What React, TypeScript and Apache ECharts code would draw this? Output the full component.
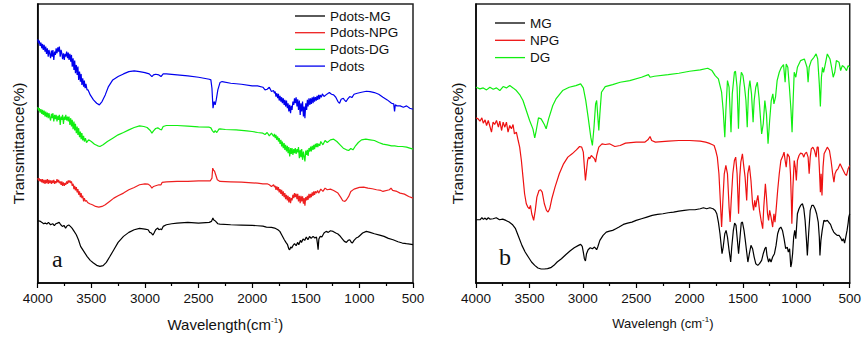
import React, { useEffect, useRef } from "react";
import * as echarts from "echarts";

// ---- Panel a : FTIR spectra (wavenumber cm-1, relative transmittance, offset) ----
const pdots: number[][] = [[4000,732],[3992,720],[3985,728],[3978,712],[3970,722],[3962,705],[3955,718],[3948,700],[3940,715],[3932,695],[3925,710],[3918,688],[3910,705],[3902,680],[3895,700],[3888,690],[3880,675],[3872,698],[3865,680],[3858,700],[3850,670],[3842,695],[3835,685],[3828,705],[3820,690],[3812,708],[3805,695],[3798,710],[3790,680],[3782,700],[3775,690],[3768,672],[3760,690],[3752,670],[3745,688],[3738,680],[3730,695],[3722,675],[3715,692],[3708,670],[3700,688],[3692,665],[3685,685],[3678,650],[3670,675],[3662,640],[3655,668],[3648,630],[3640,655],[3632,625],[3625,650],[3618,610],[3610,635],[3602,605],[3595,628],[3588,595],[3580,615],[3572,590],[3565,608],[3558,585],[3550,598],[3540,580],[3530,580],[3510,565],[3480,550],[3450,540],[3425,535],[3400,545],[3370,565],[3340,590],[3300,610],[3250,620],[3200,628],[3150,635],[3100,637],[3050,635],[3000,632],[2960,628],[2935,620],[2920,625],[2900,627],[2870,625],[2850,620],[2830,628],[2800,628],[2700,625],[2600,622],[2500,618],[2400,612],[2385,610],[2375,585],[2365,525],[2355,545],[2345,535],[2335,550],[2320,580],[2300,602],[2280,605],[2200,600],[2100,597],[2000,592],[1950,592],[1900,588],[1880,580],[1860,582],[1840,588],[1820,575],[1800,578],[1792,570],[1785,575],[1778,560],[1770,570],[1762,555],[1755,568],[1748,548],[1740,562],[1732,545],[1725,558],[1718,540],[1710,555],[1702,535],[1695,550],[1688,530],[1680,548],[1672,525],[1665,540],[1658,515],[1650,535],[1642,510],[1635,532],[1628,520],[1620,545],[1612,535],[1605,555],[1598,540],[1590,558],[1582,530],[1575,552],[1568,520],[1560,548],[1552,505],[1545,540],[1538,515],[1530,545],[1522,500],[1515,530],[1508,495],[1500,540],[1492,520],[1485,550],[1478,530],[1470,555],[1462,535],[1455,555],[1448,538],[1440,558],[1432,540],[1425,560],[1418,545],[1410,558],[1402,548],[1395,562],[1388,550],[1380,565],[1372,552],[1365,565],[1355,558],[1345,568],[1330,560],[1300,568],[1280,572],[1260,567],[1240,565],[1220,558],[1200,545],[1185,540],[1170,552],[1150,555],[1140,550],[1125,545],[1110,552],[1090,560],[1070,557],[1050,567],[1020,570],[980,573],[935,576],[900,575],[860,572],[820,567],[780,558],[740,550],[700,540],[680,538],[672,515],[665,535],[650,532],[620,532],[590,528],[560,532],[530,525],[500,522]];

const pdotsDG: number[][] = [[4000,528],[3992,518],[3985,525],[3978,512],[3970,522],[3962,508],[3955,520],[3948,505],[3940,518],[3932,500],[3925,515],[3918,498],[3910,512],[3902,495],[3895,510],[3888,498],[3880,488],[3872,508],[3865,495],[3858,510],[3850,485],[3842,505],[3835,492],[3828,505],[3820,485],[3812,502],[3805,490],[3798,505],[3790,475],[3782,500],[3775,490],[3768,505],[3760,478],[3752,500],[3745,490],[3738,505],[3730,488],[3722,500],[3715,485],[3708,500],[3700,475],[3692,495],[3685,470],[3678,490],[3670,462],[3662,485],[3655,458],[3648,478],[3640,450],[3632,470],[3625,445],[3618,465],[3610,438],[3602,455],[3595,432],[3588,450],[3580,428],[3572,442],[3565,425],[3555,435],[3545,422],[3525,430],[3500,425],[3470,417],[3440,412],[3420,410],[3390,415],[3350,425],[3300,435],[3250,445],[3200,452],[3150,460],[3100,467],[3050,472],[3010,470],[2980,467],[2950,458],[2935,450],[2920,457],[2900,464],[2880,466],[2860,462],[2845,460],[2830,470],[2800,473],[2700,473],[2600,471],[2500,469],[2400,468],[2385,466],[2370,457],[2355,452],[2345,458],[2330,452],[2310,462],[2300,463],[2250,461],[2150,460],[2050,457],[2000,455],[1950,452],[1900,450],[1880,446],[1860,452],[1840,442],[1820,450],[1800,440],[1792,448],[1785,435],[1778,445],[1770,430],[1762,440],[1755,425],[1748,435],[1740,418],[1732,430],[1725,410],[1718,425],[1710,405],[1702,420],[1695,400],[1688,415],[1680,395],[1672,412],[1665,390],[1658,408],[1650,380],[1642,405],[1635,388],[1628,405],[1620,385],[1612,402],[1605,390],[1598,405],[1590,388],[1582,402],[1575,392],[1568,408],[1560,375],[1552,400],[1545,378],[1538,402],[1530,370],[1522,395],[1515,380],[1508,365],[1500,398],[1492,385],[1485,400],[1478,382],[1470,405],[1462,395],[1455,410],[1448,395],[1440,412],[1432,400],[1425,415],[1418,402],[1410,418],[1402,408],[1395,420],[1388,408],[1380,418],[1370,412],[1360,425],[1340,415],[1320,428],[1300,422],[1270,430],[1240,432],[1210,425],[1180,415],[1150,405],[1120,400],[1100,398],[1080,404],[1060,400],[1040,410],[1010,422],[980,430],[940,432],[900,430],[860,428],[820,422],[780,417],[740,415],[700,412],[670,412],[640,410],[600,410],[560,408],[530,405],[500,402]];

const pdotsNPG: number[][] = [[4000,315],[3992,308],[3985,314],[3978,305],[3970,312],[3962,302],[3955,312],[3948,300],[3940,310],[3932,298],[3925,310],[3918,300],[3910,312],[3902,298],[3895,310],[3888,300],[3880,308],[3872,298],[3865,308],[3858,300],[3850,310],[3842,298],[3835,306],[3828,300],[3820,312],[3812,302],[3805,310],[3798,300],[3790,305],[3782,295],[3775,305],[3768,292],[3760,302],[3752,292],[3745,300],[3738,295],[3730,305],[3722,298],[3715,308],[3708,302],[3700,308],[3692,300],[3685,305],[3678,292],[3670,298],[3662,282],[3655,292],[3648,278],[3640,288],[3632,272],[3625,282],[3618,265],[3610,275],[3602,258],[3595,270],[3588,255],[3580,262],[3572,245],[3565,255],[3555,245],[3545,248],[3535,242],[3515,238],[3490,235],[3460,230],[3430,228],[3400,230],[3370,235],[3330,245],[3290,255],[3250,262],[3200,270],[3150,280],[3100,287],[3050,295],[3000,298],[2970,297],[2950,292],[2935,285],[2920,290],[2900,292],[2870,295],[2850,295],[2840,302],[2800,304],[2700,305],[2600,305],[2500,307],[2420,307],[2390,307],[2375,315],[2368,345],[2358,338],[2350,335],[2340,325],[2325,310],[2300,305],[2200,304],[2100,303],[2000,301],[1950,300],[1900,298],[1860,298],[1840,295],[1820,290],[1800,295],[1792,288],[1785,292],[1778,280],[1770,290],[1762,278],[1755,288],[1748,272],[1740,282],[1732,268],[1725,280],[1718,262],[1710,275],[1702,258],[1695,270],[1688,252],[1680,265],[1672,248],[1665,262],[1658,242],[1650,258],[1642,240],[1635,255],[1628,248],[1620,265],[1612,255],[1605,270],[1598,258],[1590,268],[1582,252],[1575,268],[1568,245],[1560,262],[1552,240],[1545,262],[1538,245],[1530,260],[1522,238],[1515,255],[1508,232],[1500,258],[1492,248],[1485,262],[1478,250],[1470,268],[1462,255],[1455,268],[1448,258],[1440,272],[1432,262],[1425,275],[1418,265],[1410,275],[1400,270],[1390,278],[1380,270],[1360,282],[1340,275],[1320,285],[1300,280],[1270,282],[1240,278],[1200,270],[1175,258],[1155,247],[1135,245],[1120,250],[1100,260],[1080,275],[1050,282],[1000,287],[960,288],[920,285],[880,283],[840,280],[800,278],[780,275],[720,280],[705,285],[690,278],[650,275],[620,270],[580,267],[540,260],[500,255]];

const pdotsMG: number[][] = [[4000,187],[3980,186],[3960,182],[3945,178],[3930,180],[3915,177],[3900,182],[3880,175],[3860,178],[3845,172],[3830,178],[3815,180],[3800,182],[3785,175],[3770,170],[3755,173],[3740,165],[3725,172],[3710,174],[3695,170],[3680,165],[3660,155],[3640,145],[3620,130],[3600,110],[3570,95],[3540,80],[3510,68],[3480,60],[3450,53],[3420,50],[3390,52],[3360,62],[3330,78],[3290,100],[3250,122],[3200,140],[3150,152],[3100,160],[3050,164],[3000,162],[2970,160],[2955,152],[2940,150],[2925,144],[2915,150],[2900,160],[2880,165],[2870,160],[2855,162],[2845,160],[2830,170],[2800,175],[2750,178],[2700,180],[2600,182],[2500,180],[2400,182],[2380,185],[2366,195],[2360,190],[2350,188],[2340,185],[2320,178],[2300,177],[2200,175],[2100,174],[2000,173],[1950,172],[1900,171],[1867,168],[1820,167],[1790,165],[1760,160],[1742,155],[1720,142],[1700,130],[1685,122],[1670,115],[1658,102],[1650,100],[1640,108],[1630,105],[1620,112],[1605,118],[1590,112],[1575,122],[1565,115],[1550,128],[1540,122],[1525,132],[1510,128],[1495,138],[1480,130],[1465,140],[1450,134],[1432,140],[1415,135],[1400,138],[1392,120],[1385,100],[1378,132],[1365,140],[1350,138],[1330,150],[1310,155],[1290,152],[1270,157],[1245,155],[1220,150],[1200,147],[1183,142],[1165,135],[1140,125],[1121,122],[1105,128],[1090,130],[1075,122],[1065,120],[1050,128],[1030,135],[1010,138],[997,142],[970,150],[935,155],[900,152],[860,148],[811,144],[770,140],[730,134],[686,130],[640,124],[600,120],[562,118],[530,117],[500,115]];

// ---- Panel b ----
const dg: number[][] = [[4000,588],[3963,583],[3932,586],[3901,580],[3870,588],[3839,582],[3808,586],[3777,578],[3746,590],[3715,586],[3684,593],[3653,586],[3622,578],[3591,566],[3560,548],[3529,518],[3498,488],[3467,463],[3450,436],[3436,458],[3415,496],[3390,493],[3360,476],[3343,463],[3320,493],[3281,533],[3251,553],[3189,578],[3127,588],[3065,593],[3020,598],[2995,586],[2972,548],[2950,498],[2925,438],[2910,413],[2895,468],[2880,538],[2870,548],[2860,503],[2850,458],[2840,508],[2825,573],[2790,590],[2720,596],[2650,603],[2560,608],[2450,618],[2385,626],[2370,618],[2330,621],[2200,626],[2100,630],[2000,636],[1900,640],[1830,645],[1790,638],[1760,623],[1730,613],[1700,573],[1685,518],[1670,438],[1660,518],[1645,608],[1630,588],[1612,453],[1600,568],[1580,633],[1570,636],[1555,588],[1542,463],[1530,588],[1515,633],[1500,623],[1485,588],[1472,548],[1460,468],[1448,578],[1435,608],[1420,568],[1405,483],[1395,548],[1380,588],[1365,603],[1350,558],[1325,448],[1310,478],[1295,548],[1280,508],[1265,418],[1250,488],[1235,548],[1220,568],[1210,538],[1195,558],[1180,608],[1160,633],[1140,648],[1120,656],[1105,603],[1095,658],[1080,648],[1065,588],[1050,518],[1040,453],[1030,548],[1020,633],[1005,618],[990,648],[960,668],[925,673],[900,648],[890,603],[880,648],[860,668],[835,678],[815,688],[800,673],[785,598],[775,530],[765,618],[755,648],[745,633],[735,648],[710,688],[685,673],[670,648],[655,618],[640,633],[625,668],[600,663],[585,638],[570,653],[550,648],[530,638],[515,653],[500,648]];

const npg: number[][] = [[4000,496],[3980,493],[3963,486],[3945,496],[3932,480],[3915,490],[3901,473],[3885,488],[3855,453],[3840,483],[3825,476],[3808,488],[3790,468],[3777,486],[3760,458],[3746,483],[3730,468],[3715,483],[3700,453],[3684,473],[3668,463],[3653,476],[3640,448],[3622,453],[3605,428],[3591,408],[3575,368],[3560,318],[3545,268],[3529,238],[3515,228],[3500,223],[3490,233],[3478,208],[3460,188],[3445,218],[3430,258],[3410,278],[3395,280],[3380,273],[3360,238],[3340,218],[3325,213],[3310,223],[3290,253],[3260,288],[3220,328],[3180,358],[3140,378],[3100,388],[3060,400],[3030,410],[3010,408],[2995,393],[2985,348],[2975,308],[2965,338],[2955,368],[2945,378],[2935,373],[2920,383],[2905,378],[2890,373],[2880,363],[2870,383],[2850,408],[2820,418],[2790,416],[2750,418],[2700,410],[2650,413],[2600,420],[2500,423],[2420,423],[2390,430],[2370,440],[2355,428],[2320,423],[2200,426],[2100,428],[2000,428],[1900,426],[1850,423],[1820,420],[1790,416],[1770,413],[1755,398],[1740,378],[1725,328],[1712,248],[1700,168],[1688,248],[1675,328],[1660,353],[1645,328],[1630,228],[1620,183],[1610,248],[1595,328],[1580,368],[1568,378],[1555,328],[1541,208],[1530,318],[1520,363],[1505,388],[1495,358],[1480,318],[1465,248],[1455,328],[1440,353],[1425,308],[1410,238],[1400,218],[1390,248],[1380,228],[1370,248],[1360,263],[1345,218],[1330,188],[1315,163],[1305,228],[1290,298],[1280,258],[1270,208],[1260,188],[1250,218],[1237,198],[1222,168],[1210,208],[1200,183],[1190,218],[1175,278],[1160,328],[1145,368],[1125,383],[1115,393],[1105,368],[1095,348],[1083,388],[1065,378],[1055,328],[1047,248],[1042,178],[1032,288],[1020,368],[1010,348],[1000,308],[990,368],[975,383],[960,390],[943,388],[930,378],[920,388],[905,393],[890,378],[880,328],[870,378],[860,403],[845,408],[830,398],[815,378],[805,408],[795,408],[785,348],[775,273],[768,328],[760,263],[750,348],[740,388],[725,398],[710,408],[690,398],[675,368],[660,328],[648,303],[638,328],[625,338],[610,343],[590,358],[575,348],[560,338],[545,328],[530,323],[515,343],[500,353]];

const mg: number[][] = [[4000,190],[3960,190],[3945,196],[3930,191],[3915,195],[3900,190],[3885,196],[3870,192],[3840,193],[3810,196],[3780,190],[3750,192],[3720,188],[3690,183],[3660,176],[3630,163],[3600,138],[3570,113],[3540,93],[3510,78],[3480,63],[3450,53],[3420,45],[3390,42],[3360,42],[3330,43],[3300,46],[3270,53],[3240,63],[3200,73],[3160,85],[3120,96],[3080,106],[3040,113],[3020,116],[3005,110],[2995,93],[2985,73],[2975,66],[2965,88],[2950,100],[2930,106],[2910,103],[2890,108],[2870,100],[2860,108],[2840,128],[2810,143],[2780,153],[2750,156],[2720,158],[2690,163],[2660,168],[2620,176],[2580,180],[2540,183],[2500,188],[2450,193],[2400,198],[2350,203],[2300,206],[2250,208],[2200,211],[2150,213],[2100,216],[2050,218],[2000,220],[1950,220],[1900,223],[1870,226],[1840,223],[1810,226],[1780,223],[1760,218],[1745,208],[1730,183],[1715,148],[1696,88],[1685,108],[1670,148],[1658,158],[1645,138],[1630,98],[1615,63],[1605,108],[1590,158],[1578,180],[1565,173],[1555,138],[1541,88],[1530,128],[1516,180],[1505,183],[1490,158],[1478,128],[1465,93],[1454,63],[1440,88],[1425,113],[1410,103],[1395,78],[1380,58],[1361,53],[1345,58],[1325,68],[1310,88],[1295,103],[1284,108],[1275,83],[1260,63],[1250,73],[1237,63],[1222,78],[1205,88],[1190,113],[1175,148],[1160,163],[1145,168],[1130,158],[1115,133],[1100,103],[1085,108],[1075,93],[1063,103],[1052,48],[1045,58],[1035,88],[1025,138],[1015,158],[1005,133],[990,208],[975,223],[960,233],[943,238],[930,223],[918,188],[905,128],[897,83],[885,148],[870,218],[855,233],[840,233],[825,223],[810,208],[795,183],[785,138],[779,83],[770,128],[758,158],[742,188],[725,186],[710,188],[690,180],[680,176],[665,163],[650,153],[635,148],[618,143],[600,143],[585,136],[571,126],[560,133],[548,120],[538,136],[525,158],[515,180],[509,198],[500,208]];

const legendA = ["Pdots-MG", "Pdots-NPG", "Pdots-DG", "Pdots"];
const legendB = ["MG", "NPG", "DG"];

const FONT = "Liberation Sans, Arial, sans-serif";
const INK = "#111";

function xAxisFor(gridIndex: number, name: string, nameSize: number, gap: number) {
  return {
    type: "value",
    gridIndex,
    min: 500,
    max: 4000,
    interval: 500,
    inverse: true,
    name,
    nameLocation: "middle",
    nameGap: gap,
    nameTextStyle: {
      fontFamily: FONT,
      fontSize: nameSize,
      color: INK,
      rich: { sup: { fontFamily: FONT, fontSize: 8, color: INK, verticalAlign: "top", padding: [0, 0, 8, 0] } },
    },
    axisLine: { show: true, onZero: false, lineStyle: { color: "#000", width: 1.5 } },
    axisTick: { show: true, inside: false, length: 5, lineStyle: { color: "#000", width: 1.2 } },
    minorTick: { show: true, splitNumber: 2, length: 3, lineStyle: { color: "#000", width: 1.2 } },
    axisLabel: { fontFamily: FONT, fontSize: 13.5, color: INK, margin: 8, formatter: (v: number) => String(v) },
    splitLine: { show: false },
  };
}

function yAxisFor(gridIndex: number, gap: number) {
  return {
    type: "value",
    gridIndex,
    min: 0,
    max: 838,
    name: "Transmittance(%)",
    nameLocation: "middle",
    nameGap: gap,
    nameRotate: 90,
    nameTextStyle: { fontFamily: FONT, fontSize: 15.5, color: INK },
    axisLine: { show: true, onZero: false, lineStyle: { color: "#000", width: 1.5 } },
    axisTick: { show: false },
    axisLabel: { show: false },
    splitLine: { show: false },
  };
}

function line(name: string, data: number[][], color: string, idx: number) {
  return {
    type: "line",
    name,
    data,
    xAxisIndex: idx,
    yAxisIndex: idx,
    symbol: "none",
    lineStyle: { color, width: 1.2 },
    itemStyle: { color },
    silent: true,
  };
}

export default function App() {
  const ref = useRef<HTMLDivElement>(null);
  useEffect(() => {
    document.body.style.margin = "0";
    if (!ref.current) return;
    const chart = echarts.init(ref.current, null, { renderer: "svg" });
    chart.setOption({
      animation: false,
      backgroundColor: "#fff",
      grid: [
        { left: 37.7, right: 451, top: 4, height: 279, show: true, borderColor: "#222", borderWidth: 1.5, backgroundColor: "transparent" },
        { left: 476, right: 11.3, top: 4, height: 279, show: true, borderColor: "#222", borderWidth: 1.5, backgroundColor: "transparent" },
      ],
      xAxis: [
        xAxisFor(0, "Wavelength(cm{sup|-1})", 15, 33),
        xAxisFor(1, "Wavelengh (cm{sup|-1})", 13, 32),
      ],
      yAxis: [yAxisFor(0, 11), yAxisFor(1, 10.5)],
      legend: [
        {
          data: legendA,
          orient: "vertical",
          left: 295,
          top: 9,
          itemWidth: 30,
          itemHeight: 14,
          itemGap: 2.7,
          padding: 0,
          icon: "path://M0,6.5 L30,6.5 L30,7.8 L0,7.8 Z",
          textStyle: { fontFamily: FONT, fontSize: 13.5, color: INK, padding: [0, 0, 0, 0] },
        },
        {
          data: legendB,
          orient: "vertical",
          left: 495,
          top: 16,
          itemWidth: 30,
          itemHeight: 14,
          itemGap: 3.3,
          padding: 0,
          icon: "path://M0,6.5 L30,6.5 L30,7.8 L0,7.8 Z",
          textStyle: { fontFamily: FONT, fontSize: 13.5, color: INK },
        },
      ],
      graphic: [
        { type: "text", left: 52, top: 247, style: { text: "a", font: "24px 'Liberation Serif', 'Times New Roman', serif", fill: "#111" } },
        { type: "text", left: 499, top: 245, style: { text: "b", font: "24px 'Liberation Serif', 'Times New Roman', serif", fill: "#111" } },
      ],
      series: [
        line("Pdots-MG", pdotsMG, "#000000", 0),
        line("Pdots-NPG", pdotsNPG, "#ee2020", 0),
        line("Pdots-DG", pdotsDG, "#11ee11", 0),
        line("Pdots", pdots, "#0000ee", 0),
        line("MG", mg, "#000000", 1),
        line("NPG", npg, "#ee1111", 1),
        line("DG", dg, "#11ee11", 1),
      ],
    });
    return () => chart.dispose();
  }, []);
  return <div ref={ref} style={{ width: 864, height: 343, position: "absolute", left: 0, top: 0 }} />;
}
